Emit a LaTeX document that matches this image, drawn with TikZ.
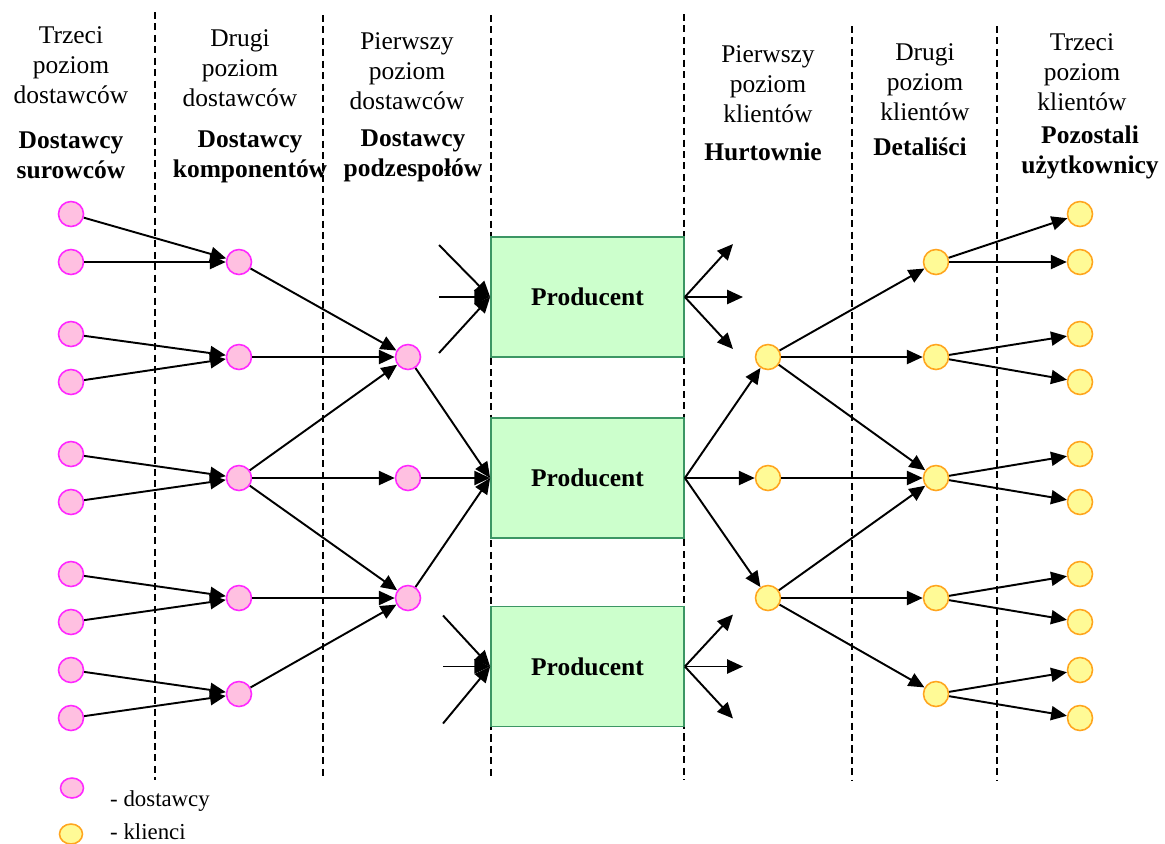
\documentclass[tikz,border=0pt]{standalone}
\usepackage{fontspec}
\setmainfont{Liberation Serif}
\usetikzlibrary{arrows.meta,shapes.geometric}

\definecolor{supfill}{RGB}{255,192,225}
\definecolor{supline}{RGB}{255,40,255}
\definecolor{clifill}{RGB}{255,250,150}
\definecolor{cliline}{RGB}{255,165,30}
\definecolor{prodfill}{RGB}{204,255,204}
\definecolor{prodline}{RGB}{60,150,100}

\begin{document}
\begin{tikzpicture}[x=0.02cm,y=-0.02cm,>={Triangle[length=9pt,width=8pt]},
  font=\fontsize{14.5}{17}\selectfont,
  dost/.style={circle,draw=supline,fill=supfill,line width=0.9pt,inner sep=0pt,minimum size=0.5cm},
  klient/.style={circle,draw=cliline,fill=clifill,line width=0.9pt,inner sep=0pt,minimum size=0.5cm},
  prod/.style={draw=prodline,fill=prodfill,line width=1pt,minimum width=3.86cm,minimum height=2.4cm,font=\fontsize{14.5}{17}\selectfont\bfseries},
  sep/.style={dash pattern=on 4pt off 2.5pt,line width=0.7pt},
  flow/.style={->,line width=1.1pt}]
  \useasboundingbox (0,0) rectangle (1165,843);

  % column separators
  \foreach \x/\t in {155/12,323/15,491/15,684/14,852/26,997/26}
    \draw[sep] (\x,\t) -- (\x,780);

  % headers
  \node[align=center] (h1) at (71,65) {Trzeci\\poziom\\dostawców};
  \node[align=center] (h2) at (240,68) {Drugi\\poziom\\dostawców};
  \node[align=center] (h3) at (407,71) {Pierwszy\\poziom\\dostawców};
  \node[align=center] (h4) at (768,84) {Pierwszy\\poziom\\klientów};
  \node[align=center] (h5) at (925,82) {Drugi\\poziom\\klientów};
  \node[align=center] (h6) at (1082,72) {Trzeci\\poziom\\klientów};
  \node[align=center,font=\fontsize{14.5}{17}\selectfont\bfseries] (t1) at (71,155) {Dostawcy\\surowców};
  \node[align=center,font=\fontsize{14.5}{17}\selectfont\bfseries] (t2) at (250,157) {Dostawcy\\komponentów};
  \node[align=center,font=\fontsize{14.5}{17}\selectfont\bfseries] (t3) at (413,156) {Dostawcy\\podzespołów};
  \node[font=\fontsize{14.5}{17}\selectfont\bfseries] (t4) at (763,152) {Hurtownie};
  \node[font=\fontsize{14.5}{17}\selectfont\bfseries] (t5) at (920,147) {Detaliści};
  \node[align=center,font=\fontsize{14.5}{17}\selectfont\bfseries] (t6) at (1090,152) {Pozostali\\użytkownicy};

  % suppliers and clients
  \foreach \y [count=\i] in {214,262,334,382,454,502,574,622,670,718} {
    \node[dost] (a\i) at (71,\y) {};
    \node[klient] (f\i) at (1080,\y) {};
  }
  \foreach \y [count=\i] in {262,357,478,598,694} {
    \node[dost] (b\i) at (239,\y) {};
    \node[klient] (e\i) at (936,\y) {};
  }
  \foreach \y [count=\i] in {357,478,598} {
    \node[dost] (c\i) at (408,\y) {};
    \node[klient] (d\i) at (768,\y) {};
  }

  % producers
  \node[prod] (p1) at (587.5,297) {Producent};
  \node[prod] (p2) at (587.5,478) {Producent};
  \node[prod] (p3) at (587.5,666.5) {Producent};

  % free ends
  \foreach \y [count=\i] in {245,297,353} {
    \coordinate (in1\i) at (439,\y);
  }
  \foreach \y [count=\i] in {615.5,666.5,723.5} {
    \coordinate (in3\i) at (443,\y);
  }
  \foreach \y/\x [count=\i] in {244/733,297/743,349/733} {
    \coordinate (out1\i) at (\x,\y);
  }
  \foreach \y/\x [count=\i] in {614.5/733,666.5/743,718.5/733} {
    \coordinate (out3\i) at (\x,\y);
  }

  % flows
  \foreach \s/\t in {a1/b1,a2/b1,a3/b2,a4/b2,a5/b3,a6/b3,a7/b4,a8/b4,a9/b5,a10/b5,
      b1/c1,b2/c1,b3/c1,b3/c2,b3/c3,b4/c3,b5/c3,
      c1/p2.west,c2/p2.west,c3/p2.west,
      in11/p1.west,in12/p1.west,in13/p1.west,in31/p3.west,in32/p3.west,in33/p3.west,
      p1.east/out11,p1.east/out12,p1.east/out13,p3.east/out31,p3.east/out32,p3.east/out33,
      p2.east/d1,p2.east/d2,p2.east/d3,
      d1/e1,d1/e2,d1/e3,d2/e3,d3/e3,d3/e4,d3/e5,
      e1/f1,e1/f2,e2/f3,e2/f4,e3/f5,e3/f6,e4/f7,e4/f8,e5/f9,e5/f10}
    \draw[flow] (\s) -- (\t);

  % legend
  \node[ellipse,draw=supline,fill=supfill,line width=0.9pt,minimum width=0.46cm,minimum height=0.4cm,inner sep=0pt] (l1) at (72,788) {};
  \node[ellipse,draw=cliline,fill=clifill,line width=0.9pt,minimum width=0.46cm,minimum height=0.4cm,inner sep=0pt] (l2) at (71,834) {};
  \node[anchor=west,font=\fontsize{13}{15}\selectfont] (l1t) at (104,801) {- dostawcy};
  \node[anchor=west,font=\fontsize{13}{15}\selectfont] (l2t) at (104,832) {- klienci};
\end{tikzpicture}
\end{document}
